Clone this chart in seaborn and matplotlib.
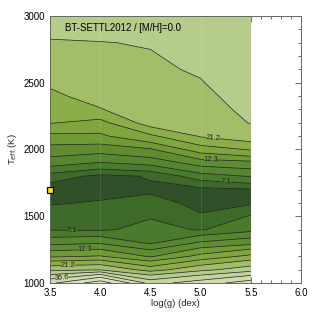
import numpy as np
import pandas as pd
import matplotlib
matplotlib.use("Agg")
import matplotlib.pyplot as plt
from matplotlib.ticker import MultipleLocator
import seaborn as sns

# -----------------------------------------
#  chi2 map  -  BT-SETTL2012 grid, [M/H]=0.0
# -----------------------------------------

logg = [3.5, 4.0, 4.5, 5.0, 5.5]
teff = [1000, 1100, 1200, 1300, 1400, 1500, 1600, 1700, 1800, 1900, 2000,
        2100, 2200, 2300, 2400, 2500, 2600, 2700, 2800, 2900, 3000]

# chi2, one list per log(g) column (teff order)
chi2_35 = [42, 24, 14.2, 9.6, 7.0, 6.4, 5.8, 5.3, 6.5, 9.2, 11.4,
           14.0, 17.9, 19.2, 20.5, 21.7, 23.0, 24.2, 25.0, 26.5, 27.5]
chi2_40 = [58, 25, 14.9, 10.0, 6.9, 6.3, 6.0, 5.5, 5.6, 8.4, 11.0,
           14.2, 16.5, 21.0, 22.5, 23.3, 24.0, 24.8, 25.3, 26.5, 27.5]
chi2_45 = [34, 19.5, 12.0, 8.3, 7.5, 7.0, 6.3, 5.7, 6.0, 9.0, 12.0,
           17.0, 23.0, 23.6, 24.0, 24.4, 24.8, 25.2, 25.6, 26.5, 27.5]
chi2_50 = [40, 24, 15.5, 10.5, 7.0, 6.0, 5.6, 5.6, 7.8, 11.0, 16.0,
           21.5, 22.5, 23.5, 24.5, 25.2, 25.8, 26.2, 26.8, 27.4, 28.0]
chi2_55 = [48, 28, 18.5, 11.5, 8.0, 7.2, 5.7, 5.8, 8.6, 11.5, 18.0,
           23.5, 25.6, 26.5, 27.0, 27.5, 28.0, 28.5, 29.0, 29.5, 30.0]

levels = [5.9, 7.1, 8.5, 10.2, 12.3, 14.7, 17.7, 21.2, 25.4, 30.5, 36.6, 43.9, 52.7]
label_levels = [7.1, 12.3, 21.2, 36.6]

best_logg = 3.5
best_teff = 1700

title = "BT-SETTL2012 / [M/H]=0.0"

# ------------------------------
# build grid
# ------------------------------
df = pd.DataFrame({3.5: chi2_35, 4.0: chi2_40, 4.5: chi2_45,
                   5.0: chi2_50, 5.5: chi2_55}, index=teff)
X, Y = np.meshgrid(logg, teff)
Z = df[logg].values

fill_colors = ["#30502a", "#3d6a28", "#4a7a2c", "#568630", "#5f8c30", "#6f9a36",
               "#80a53e", "#8cae48", "#a3bd68", "#b5cc8a", "#c2d59e", "#ccdcad",
               "#d5e2bb", "#dde8c8"]

sns.set_theme(style="ticks")
plt.rcParams["font.family"] = ["Liberation Sans", "DejaVu Sans"]

fig = plt.figure(figsize=(3.16, 3.16), dpi=100)
ax = fig.add_axes([0.158, 0.1044, 0.7945, 0.845])

ax.contourf(X, Y, Z, levels=levels, colors=fill_colors, extend="both")
plain_levels = [lv for lv in levels if lv not in label_levels]
ax.contour(X, Y, Z, levels=plain_levels, colors="#1e1e1e", linewidths=0.5)
cs = ax.contour(X, Y, Z, levels=label_levels, colors="#1e1e1e", linewidths=0.5)
ax.clabel(cs, fmt="%.1f", fontsize=5.4, inline=True, inline_spacing=1,
          manual=[(3.72, 1387), (3.85, 1245), (3.68, 1125), (3.62, 1035),
                  (5.12, 2060), (5.1, 1925), (5.25, 1750)])

for xv in [4.0, 5.0]:
    ax.axvline(xv, color="white", alpha=0.12, lw=0.6)

ax.plot([best_logg], [best_teff], marker="s", ms=4.5, mfc="#ffe600",
        mec="black", mew=0.9, clip_on=False, zorder=10)

ax.text(3.65, 2888, title, fontsize=6.9, color="black")

ax.set_xlim(3.5, 6.0)
ax.set_ylim(1000, 3000)
ax.xaxis.set_major_locator(MultipleLocator(0.5))
ax.xaxis.set_minor_locator(MultipleLocator(0.1))
ax.yaxis.set_major_locator(MultipleLocator(500))
ax.yaxis.set_minor_locator(MultipleLocator(100))
ax.tick_params(which="both", direction="in", top=True, right=True,
               colors="#555555", labelcolor="black", labelsize=7, width=0.6)
ax.tick_params(which="major", length=4)
ax.tick_params(which="minor", length=2)
ax.set_xticklabels([f"{v:.1f}" for v in ax.get_xticks()])
for sp in ax.spines.values():
    sp.set_color("#666666")
    sp.set_linewidth(0.7)

ax.set_xlabel("log(g) (dex)", fontsize=6.8, labelpad=1)
ax.set_ylabel(r"T$_{\rm eff}$ (K)", fontsize=6.8, labelpad=3)

plt.savefig("out.png", dpi=100)
